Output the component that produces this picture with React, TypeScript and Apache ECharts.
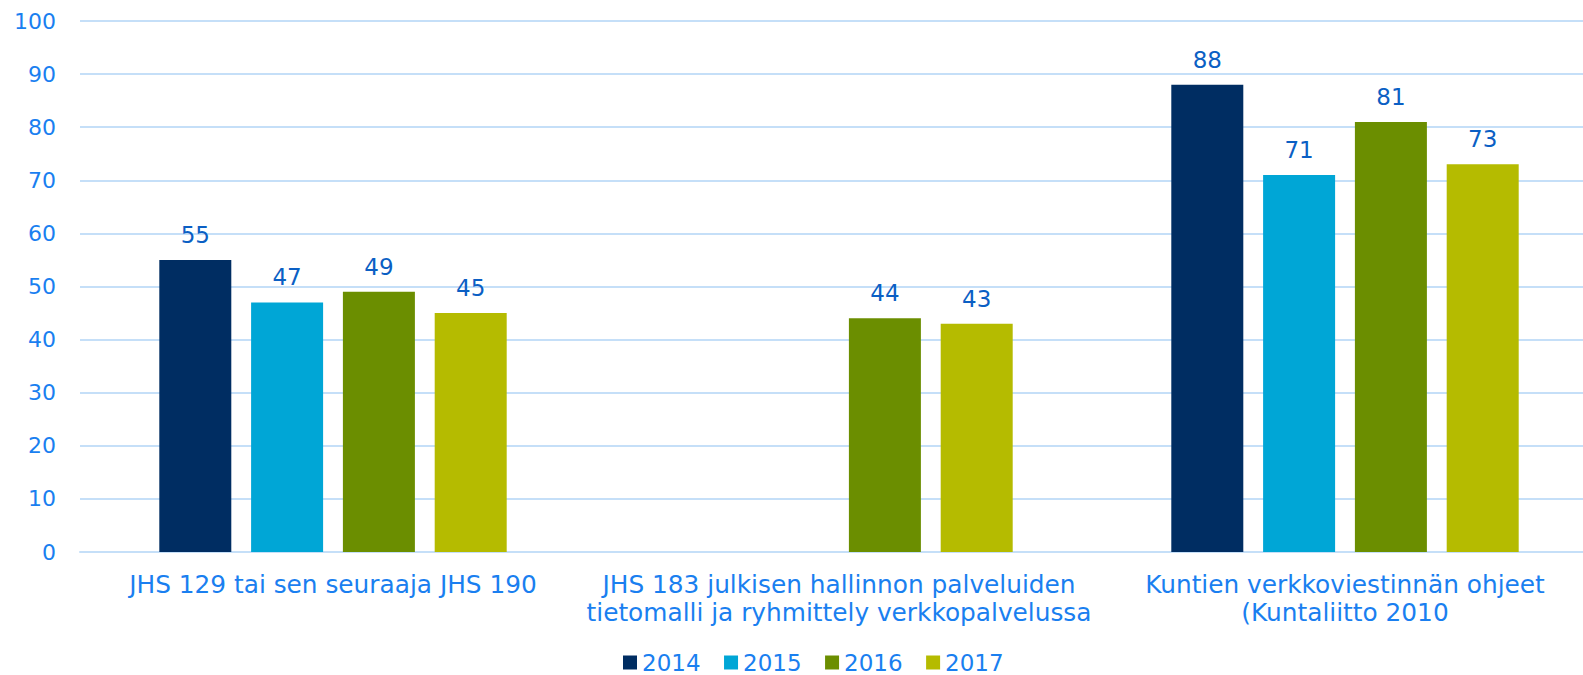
import React, { useEffect, useRef } from "react";
import * as echarts from "echarts";

const categories = [
  "JHS 129 tai sen seuraaja JHS 190",
  "JHS 183 julkisen hallinnon palveluiden\ntietomalli ja ryhmittely verkkopalvelussa",
  "Kuntien verkkoviestinnän ohjeet\n(Kuntaliitto 2010",
];
const seriesNames = ["2014", "2015", "2016", "2017"];
const values2014 = [55, null, 88];
const values2015 = [47, null, 71];
const values2016 = [49, 44, 81];
const values2017 = [45, 43, 73];
const colors = ["#002d62", "#00a6d6", "#6b8e00", "#b5bb00"];
const yTicks = { min: 0, max: 100, interval: 10 };

const FONT = "Verdana, 'DejaVu Sans', sans-serif";
const AXIS_COLOR = "#1a7ff0";
const LABEL_COLOR = "#0b5fc4";
const GRID_COLOR = "#c5dff8";

export default function App() {
  const ref = useRef<HTMLDivElement>(null);
  useEffect(() => {
    const chart = echarts.init(ref.current!, null, { renderer: "svg" });
    const data = [values2014, values2015, values2016, values2017];
    chart.setOption({
      animation: false,
      textStyle: { fontFamily: FONT },
      grid: { left: 80, width: 1518, top: 21, height: 531, containLabel: false },
      legend: {
        left: 618,
        top: 646,
        itemWidth: 14,
        itemHeight: 14,
        itemGap: 23.5,
        icon: "rect",
        textStyle: { color: AXIS_COLOR, fontSize: 23, lineHeight: 18, fontFamily: FONT },
        data: seriesNames,
      },
      xAxis: {
        type: "category",
        data: categories,
        axisLine: { lineStyle: { color: GRID_COLOR, width: 2 } },
        axisTick: { show: false },
        axisLabel: {
          color: AXIS_COLOR,
          fontSize: 24.8,
          fontFamily: FONT,
          lineHeight: 28,
          margin: 18,
          interval: 0,
          align: "center",
        },
      },
      yAxis: {
        type: "value",
        min: yTicks.min,
        max: yTicks.max,
        interval: yTicks.interval,
        axisLine: { show: false },
        axisTick: { show: false },
        splitLine: { lineStyle: { color: GRID_COLOR, width: 2 } },
        axisLabel: { color: AXIS_COLOR, fontSize: 22, fontFamily: FONT, margin: 24 },
      },
      series: seriesNames.map((name, i) => ({
        name,
        type: "bar",
        data: data[i],
        barWidth: 72,
        barGap: "27.5%",
        itemStyle: { color: colors[i] },
        label: {
          show: true,
          position: "top",
          distance: 13.5,
          color: LABEL_COLOR,
          fontSize: 23,
          fontFamily: FONT,
        },
      })),
    });
    return () => chart.dispose();
  }, []);
  return (
    <div
      style={{
        position: "fixed",
        left: 0,
        top: 0,
        width: 1583,
        height: 675,
        overflow: "hidden",
        background: "#fff",
      }}
    >
      <div ref={ref} style={{ width: 1600, height: 675 }} />
    </div>
  );
}
